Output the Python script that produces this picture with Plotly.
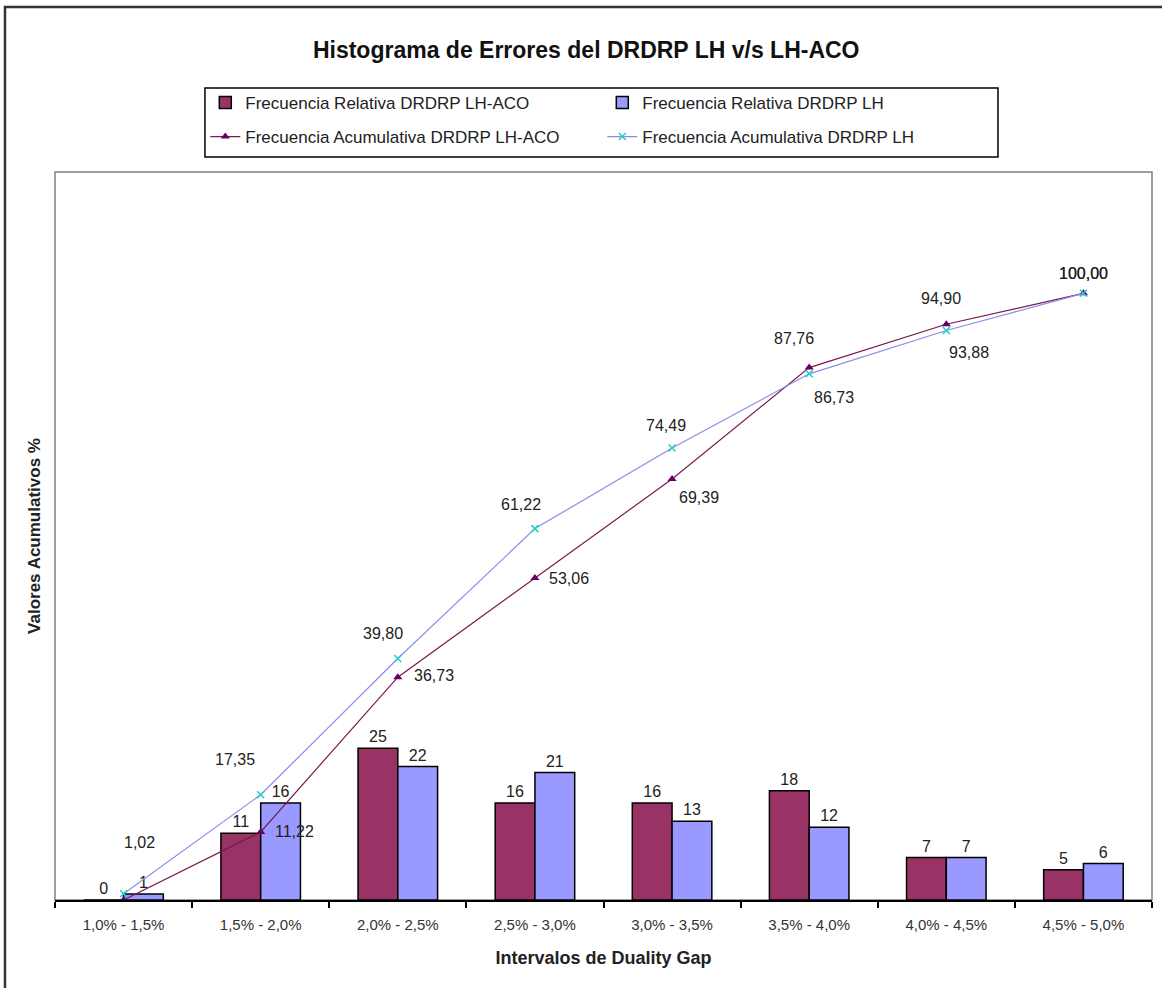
import plotly.graph_objects as go

categories = ["1,0% - 1,5%", "1,5% - 2,0%", "2,0% - 2,5%", "2,5% - 3,0%",
              "3,0% - 3,5%", "3,5% - 4,0%", "4,0% - 4,5%", "4,5% - 5,0%"]
rel_aco = [0, 11, 25, 16, 16, 18, 7, 5]
rel_lh = [1, 16, 22, 21, 13, 12, 7, 6]
acu_aco = [0.00, 11.22, 36.73, 53.06, 69.39, 87.76, 94.90, 100.00]
acu_lh = [1.02, 17.35, 39.80, 61.22, 74.49, 86.73, 93.88, 100.00]

# pixel offsets (dx, dy; dy positive = downward) of the cumulative labels
off_aco = [None, (34, 0), (36, -2), (34, 0), (27, 18), (-15, -29), (-5, -26), (0, -20)]
off_lh = [(16, -51), (-26, -35), (-15, -25), (-14, -24), (-6, -23), (25, 24), (23, 22), (0, -20)]

FONT = "Liberation Sans, Arial, sans-serif"
TXT = "#222222"


def fmt(v):
    return f"{v:.2f}".replace(".", ",")


fig = go.Figure()
fig.add_trace(go.Bar(
    x=categories, y=rel_aco, name="Frecuencia Relativa DRDRP LH-ACO",
    marker=dict(color="#993366", line=dict(color="#000000", width=1.5)),
    texttemplate="%{y}", textposition="outside",
    textfont=dict(family=FONT, size=16, color=TXT), cliponaxis=False,
    legend="legend"))
fig.add_trace(go.Bar(
    x=categories, y=rel_lh, name="Frecuencia Relativa DRDRP LH",
    marker=dict(color="#9999FF", line=dict(color="#000000", width=1.5)),
    texttemplate="%{y}", textposition="outside",
    textfont=dict(family=FONT, size=16, color=TXT), cliponaxis=False,
    legend="legend"))
fig.add_trace(go.Scatter(
    x=categories, y=acu_aco, name="Frecuencia Acumulativa DRDRP LH-ACO",
    mode="lines+markers",
    line=dict(color="#7A1A50", width=1.2),
    marker=dict(symbol="triangle-up", size=8, color="#660066"),
    cliponaxis=False, legend="legend2"))
fig.add_trace(go.Scatter(
    x=categories, y=acu_lh, name="Frecuencia Acumulativa DRDRP LH",
    mode="lines+markers",
    line=dict(color="#8C8CE8", width=1.2),
    marker=dict(symbol="x-thin", size=7, color="#22CCCC",
                line=dict(color="#22CCCC", width=1.5)),
    cliponaxis=False, legend="legend2"))

annotations = []
for cat, vals, offs in ((categories, acu_aco, off_aco), (categories, acu_lh, off_lh)):
    for c, v, o in zip(cat, vals, offs):
        if o is None:
            continue
        annotations.append(dict(
            x=c, y=v, xref="x", yref="y", text=fmt(v), showarrow=False,
            xshift=o[0], yshift=-o[1], xanchor="center", yanchor="middle",
            font=dict(family=FONT, size=16, color=TXT)))

legend_common = dict(orientation="h", xanchor="left", yanchor="middle",
                     entrywidth=352, entrywidthmode="pixels",
                     bgcolor="rgba(0,0,0,0)", borderwidth=0,
                     font=dict(family=FONT, size=17, color=TXT),
                     traceorder="normal")

fig.update_layout(
    width=1162, height=988,
    margin=dict(l=55, r=10, t=172, b=88, autoexpand=False),
    paper_bgcolor="white", plot_bgcolor="white",
    separators=",.",
    barmode="group", bargap=0.42, bargroupgap=0,
    hovermode=False,
    title=dict(text="<b>Histograma de Errores del DRDRP LH v/s LH-ACO</b>",
               x=0.5045, xanchor="center", y=0.9494, yanchor="middle",
               font=dict(family=FONT, size=23, color="#111111")),
    legend=dict(x=0.137, y=1.0948, **legend_common),
    legend2=dict(x=0.137, y=1.0481, **legend_common),
    showlegend=True,
    xaxis=dict(showgrid=False, showline=True, linecolor="#000000", linewidth=1.5,
               ticks="outside", ticklen=6, tickcolor="#000000", tickwidth=1.5,
               tickson="boundaries", automargin=False, ticklabelstandoff=10,
               tickfont=dict(family=FONT, size=15, color="#333333"),
               title=dict(text="<b>Intervalos de Duality Gap</b>", standoff=20,
                          font=dict(family=FONT, size=18, color=TXT))),
    yaxis=dict(range=[0, 120], showgrid=False, showticklabels=False, ticks="",
               zeroline=False, showline=False, automargin=False,
               title=dict(text="<b>Valores Acumulativos %</b>", standoff=9,
                          font=dict(family=FONT, size=17, color=TXT))),
    annotations=annotations,
    shapes=[
        dict(type="rect", xref="paper", yref="paper", x0=0, x1=1, y0=0, y1=1,
             line=dict(color="#808080", width=1.5), layer="below"),
        dict(type="rect", xref="paper", yref="paper", x0=0.1367, x1=0.8596,
             y0=1.0206, y1=1.1154, line=dict(color="#000000", width=1.5)),
        dict(type="rect", xref="paper", yref="paper", x0=-0.0456, x1=1.3,
             y0=-0.5, y1=1.2266, line=dict(color="#333333", width=2.5)),
    ],
)

fig.write_html("out.html", config={"displayModeBar": False},
               post_script="document.body.style.margin='0px';document.body.style.overflow='hidden';")
